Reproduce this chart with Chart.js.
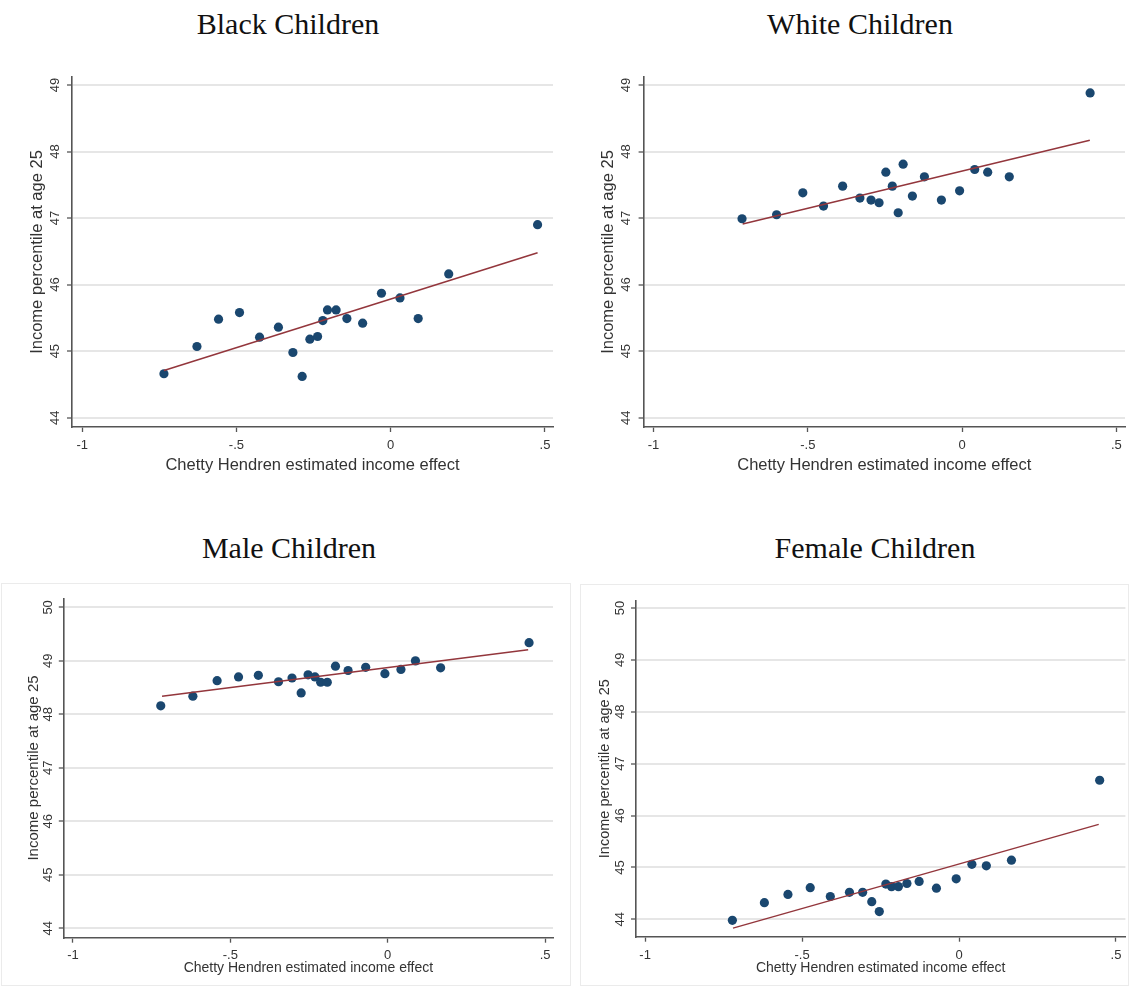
<!DOCTYPE html>
<html>
<head>
<meta charset="utf-8">
<script src="https://cdn.jsdelivr.net/npm/chart.js@4.4.0/dist/chart.umd.min.js"></script>
<style>
  html, body { margin: 0; padding: 0; background: #ffffff; }
  body { width: 1130px; height: 988px; position: relative; overflow: hidden; }
  .ttl { position: absolute; width: 400px; text-align: center; font-family: 'Liberation Serif', serif; font-size: 30px; line-height: 30px; color: #111; white-space: nowrap; }
  .box { position: absolute; border: 1px solid #ebebeb; box-sizing: border-box; }
  .cv { position: absolute; }
</style>
</head>
<body>
<div class="box" style="left:1px;top:583px;width:570px;height:403px;"></div>
<div class="box" style="left:580px;top:584px;width:549px;height:402px;"></div>
<div class="ttl" style="left:88px;top:9px;">Black Children</div>
<div class="ttl" style="left:660px;top:9px;">White Children</div>
<div class="ttl" style="left:89px;top:533px;">Male Children</div>
<div class="ttl" style="left:675px;top:533px;">Female Children</div>
<div class="cv" style="left:0px;top:60px;width:577px;height:420px;"><canvas id="c1"></canvas></div>
<div class="cv" style="left:565px;top:60px;width:565px;height:420px;"><canvas id="c2"></canvas></div>
<div class="cv" style="left:0px;top:580px;width:577px;height:408px;"><canvas id="c3"></canvas></div>
<div class="cv" style="left:565px;top:580px;width:565px;height:408px;"><canvas id="c4"></canvas></div>
<script>
// ---- data ----
const xTickVals = [-1, -0.5, 0, 0.5];
const xTickLabels = ["-1", "-.5", "0", ".5"];
const yTicksTop = [44, 45, 46, 47, 48, 49];
const yTicksBottom = [44, 45, 46, 47, 48, 49, 50];

const xAxisTitle = "Chetty Hendren estimated income effect";
const yAxisTitle = "Income percentile at age 25";

const blackX = [-0.735,-0.628,-0.558,-0.490,-0.425,-0.364,-0.317,-0.287,-0.262,-0.237,-0.220,-0.205,-0.177,-0.142,-0.091,-0.030,0.030,0.089,0.188,0.476];
const blackY = [44.66,45.07,45.48,45.58,45.21,45.36,44.98,44.62,45.18,45.22,45.46,45.62,45.62,45.49,45.42,45.87,45.80,45.49,46.16,46.90];
const blackFitX = [-0.735, 0.476];
const blackFitY = [44.71, 46.48];

const whiteX = [-0.713,-0.601,-0.516,-0.449,-0.387,-0.331,-0.295,-0.269,-0.247,-0.226,-0.207,-0.191,-0.161,-0.122,-0.067,-0.008,0.041,0.083,0.153,0.415];
const whiteY = [46.99,47.05,47.38,47.18,47.48,47.30,47.27,47.23,47.69,47.48,47.08,47.81,47.33,47.62,47.27,47.41,47.73,47.69,47.62,48.88];
const whiteFitX = [-0.711, 0.414];
const whiteFitY = [46.91, 48.17];

const maleX = [-0.721,-0.619,-0.542,-0.474,-0.411,-0.347,-0.304,-0.275,-0.253,-0.231,-0.213,-0.192,-0.166,-0.126,-0.070,-0.009,0.042,0.088,0.168,0.449];
const maleY = [48.16,48.34,48.63,48.70,48.73,48.61,48.68,48.40,48.74,48.70,48.60,48.60,48.90,48.82,48.88,48.76,48.84,49.00,48.87,49.34];
const maleFitX = [-0.717, 0.446];
const maleFitY = [48.34, 49.21];

const femaleX = [-0.722,-0.620,-0.545,-0.474,-0.410,-0.349,-0.307,-0.278,-0.254,-0.233,-0.215,-0.193,-0.166,-0.127,-0.072,-0.009,0.041,0.087,0.167,0.448];
const femaleY = [43.98,44.32,44.48,44.61,44.44,44.52,44.52,44.34,44.15,44.68,44.63,44.63,44.69,44.73,44.60,44.78,45.06,45.03,45.14,46.68];
const femaleFitX = [-0.720, 0.445];
const femaleFitY = [43.83, 45.83];

// ---- styles ----
const DOT = '#1a476f';
const FIT = '#93363c';
const AXIS = '#555555';
const GRID = '#e6e6e6';
const TXT = '#333333';
const SANS = "'Liberation Sans', Arial, sans-serif";

function pts(xs, ys) { return xs.map((x, i) => ({ x: x, y: ys[i] })); }

function makeChart(id, o) {
  const ctx = document.getElementById(id);
  return new Chart(ctx, {
    type: 'scatter',
    data: {
      datasets: [
        { type: 'scatter', data: pts(o.x, o.y), backgroundColor: DOT, borderWidth: 0,
          pointRadius: 4.6, pointHoverRadius: 4.6, order: 2 },
        { type: 'line', data: pts(o.fx, o.fy), borderColor: FIT, borderWidth: 1.5,
          pointRadius: 0, fill: false, tension: 0, order: 1 }
      ]
    },
    options: {
      responsive: true,
      maintainAspectRatio: false,
      animation: false,
      events: [],
      layout: { padding: { left: 0, top: o.padTop, right: o.padRight, bottom: 0 } },
      plugins: { legend: { display: false }, tooltip: { enabled: false }, title: { display: false } },
      scales: {
        x: {
          type: 'linear', position: 'bottom', min: o.xmin, max: o.xmax,
          afterBuildTicks: s => { s.ticks = xTickVals.map(v => ({ value: v })); },
          afterFit: s => { s.height = o.xH; },
          ticks: { callback: (v, i) => xTickLabels[i], color: TXT, padding: o.xTickPad,
                   font: { family: SANS, size: 13 }, maxRotation: 0, minRotation: 0, autoSkip: false },
          grid: { drawOnChartArea: false, drawTicks: true, tickLength: 5, tickColor: AXIS, tickWidth: 1.3 },
          border: { display: true, color: AXIS, width: 1.6 },
          title: { display: true, text: xAxisTitle, color: TXT,
                   font: { family: SANS, size: o.xTitleSize }, padding: { top: 0, bottom: o.xTitlePad } }
        },
        y: {
          type: 'linear', position: 'left', min: o.ymin, max: o.ymax,
          afterBuildTicks: s => { s.ticks = o.yTicks.map(v => ({ value: v })); },
          afterFit: s => { s.width = o.yW; },
          ticks: { color: TXT, padding: o.yTickPad, font: { family: SANS, size: 13 },
                   minRotation: 90, maxRotation: 90, crossAlign: 'center', autoSkip: false },
          grid: { color: GRID, lineWidth: 2, drawTicks: true, tickLength: 5, tickColor: AXIS, tickWidth: 1.3 },
          border: { display: true, color: AXIS, width: 1.6 },
          title: { display: true, text: yAxisTitle, color: TXT,
                   font: { family: SANS, size: o.yTitleSize }, padding: { top: o.yTitlePad, bottom: 0 } }
        }
      }
    }
  });
}

makeChart('c1', { x: blackX, y: blackY, fx: blackFitX, fy: blackFitY,
  xmin: -1.033, xmax: 0.526, ymin: 43.86, ymax: 49.12, yTicks: yTicksTop,
  padTop: 17, padRight: 24, xH: 53, yW: 72, xTickPad: 5.2, yTickPad: 4.8,
  xTitleSize: 16.5, xTitlePad: 5.1, yTitleSize: 16.5, yTitlePad: 27.9 });

makeChart('c2', { x: whiteX, y: whiteY, fx: whiteFitX, fy: whiteFitY,
  xmin: -1.032, xmax: 0.528, ymin: 43.86, ymax: 49.12, yTicks: yTicksTop,
  padTop: 17, padRight: 5, xH: 53, yW: 78.6, xTickPad: 5.2, yTickPad: 4.8,
  xTitleSize: 16.5, xTitlePad: 5.1, yTitleSize: 16.5, yTitlePad: 33.1 });

makeChart('c3', { x: maleX, y: maleY, fx: maleFitX, fy: maleFitY,
  xmin: -1.029, xmax: 0.525, ymin: 43.824, ymax: 50.17, yTicks: yTicksBottom,
  padTop: 18.3, padRight: 24, xH: 50.3, yW: 63.8, xTickPad: 4.5, yTickPad: 3.3,
  xTitleSize: 14, xTitlePad: 11.3, yTitleSize: 15, yTitlePad: 25.2 });

makeChart('c4', { x: femaleX, y: femaleY, fx: femaleFitX, fy: femaleFitY,
  xmin: -1.029, xmax: 0.530, ymin: 43.665, ymax: 50.14, yTicks: yTicksBottom,
  padTop: 20.7, padRight: 3, xH: 51.3, yW: 71, xTickPad: 5.5, yTickPad: 3.8,
  xTitleSize: 14, xTitlePad: 11.6, yTitleSize: 14.5, yTitlePad: 30.9 });
</script>
</body>
</html>
